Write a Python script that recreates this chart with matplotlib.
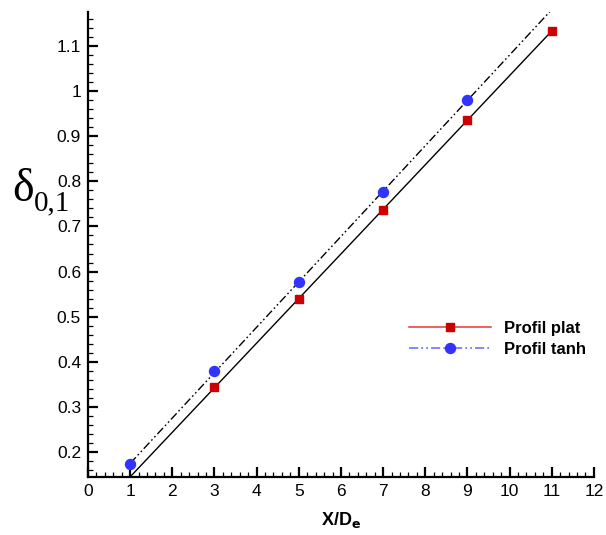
import numpy as np
import matplotlib
matplotlib.use("Agg")
import matplotlib.pyplot as plt
from matplotlib.ticker import MultipleLocator, FuncFormatter
from matplotlib.lines import Line2D

plat_x = [3, 5, 7, 9, 11]
plat_y = [0.344, 0.539, 0.737, 0.936, 1.133]
tanh_x = [1, 3, 5, 7, 9]
tanh_y = [0.173, 0.380, 0.577, 0.776, 0.980]
labels = ["Profil plat", "Profil tanh"]

plt.rcParams['font.family'] = ['Liberation Sans', 'DejaVu Sans']

fig = plt.figure(figsize=(6.06, 5.35), dpi=100)
ax = fig.add_axes([0.1452, 0.1084, 0.980 - 0.1452, 0.9776 - 0.1084])

# linear fits
p1 = np.polyfit(plat_x, plat_y, 1)
p2 = np.polyfit(tanh_x, tanh_y, 1)
xf = np.array([1.0, 11.0])
ax.plot(xf, np.polyval(p1, xf), color='black', lw=1.0, zorder=2)
ax.plot(xf, np.polyval(p2, xf), color='black', lw=1.0, dashes=[6, 2, 1.2, 2, 1.2, 2], zorder=2)

ax.plot(plat_x, plat_y, 's', color='#cc0000', ms=5.8, zorder=3, clip_on=False)
ax.plot(tanh_x, tanh_y, 'o', color='#3333ff', ms=7.2, zorder=3, clip_on=False)

ax.set_xlim(0, 12)
ax.set_ylim(0.145, 1.175)
ax.xaxis.set_major_locator(MultipleLocator(1))
ax.xaxis.set_minor_locator(MultipleLocator(0.2))
ax.yaxis.set_major_locator(MultipleLocator(0.1))
ax.yaxis.set_minor_locator(MultipleLocator(0.02))

def fmt(v, pos):
    s = ("%.1f" % v)
    if s.endswith(".0"):
        s = s[:-2]
    return s
ax.yaxis.set_major_formatter(FuncFormatter(fmt))

for side in ['top', 'right']:
    ax.spines[side].set_visible(False)
for side in ['left', 'bottom']:
    ax.spines[side].set_linewidth(1.6)

ax.tick_params(which='major', direction='in', length=7, width=1.6, labelsize=12.5, pad=5)
ax.tick_params(which='minor', direction='in', length=3.8, width=0.9)

ax.set_xlabel(r"X/D$_\mathbf{e}$", fontsize=13, fontweight='bold', labelpad=8)
fig.text(12 / 606, 1 - 190 / 535, "δ", fontsize=33, family='Liberation Serif',
         ha='left', va='center')
fig.text(34 / 606, 1 - 203 / 535, "0,1", fontsize=21, family='Liberation Serif',
         ha='left', va='center')

h1 = Line2D([], [], color='#ee3333', lw=1.1, marker='s', ms=5.8, mfc='#cc0000', mec='#cc0000')
h2 = Line2D([], [], color='#6666ff', lw=1.1, marker='o', ms=7.2, mfc='#3333ff', mec='#3333ff',
            dashes=[6, 2, 1.2, 2, 1.2, 2])
ax.legend([h1, h2], labels, loc='center left',
          bbox_to_anchor=(409 / 606, 1 - 339 / 535), bbox_transform=fig.transFigure,
          frameon=False, borderpad=0, borderaxespad=0,
          prop={'weight': 'bold', 'size': 12}, handlelength=4.9, handletextpad=0.8,
          labelspacing=0.35)

fig.savefig("out.png", dpi=100)
